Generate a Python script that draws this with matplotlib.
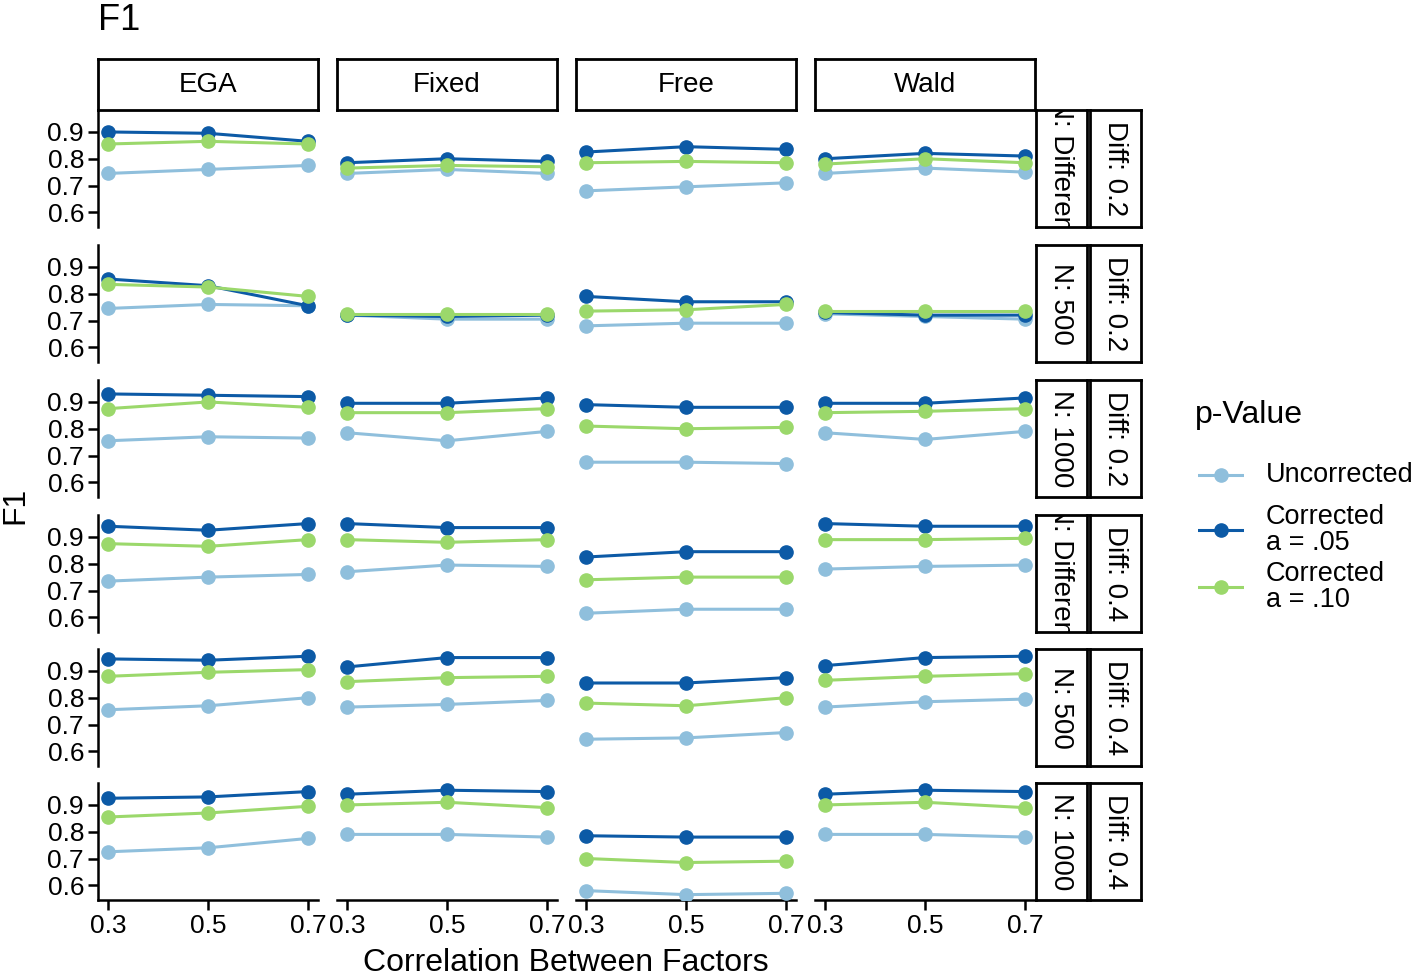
import matplotlib
matplotlib.use("Agg")
import matplotlib.pyplot as plt

corr = [0.3, 0.5, 0.7]
methods = ["EGA", "Fixed", "Free", "Wald"]
row_n = ["N: Different", "N: 500", "N: 1000", "N: Different", "N: 500", "N: 1000"]
row_diff = ["Diff: 0.2"] * 3 + ["Diff: 0.4"] * 3
series_names = ["Uncorrected", "Corrected\na = .05", "Corrected\na = .10"]
colors = ["#8fbfdc", "#0c5aa6", "#9bd86b"]

# values[row][method] = (uncorrected, corr .05, corr .10)
uncorrected = [
    [[.745, .76, .775], [.745, .76, .745], [.68, .695, .71], [.745, .765, .75]],
    [[.745, .76, .755], [.72, .705, .705], [.68, .69, .69], [.725, .715, .705]],
    [[.755, .77, .765], [.785, .755, .79], [.675, .675, .67], [.785, .76, .79]],
    [[.735, .75, .76], [.77, .795, .79], [.615, .63, .63], [.78, .79, .795]],
    [[.755, .77, .80], [.765, .775, .79], [.645, .65, .67], [.765, .785, .795]],
    [[.725, .74, .775], [.79, .79, .78], [.58, .565, .57], [.79, .79, .78]],
]
corrected05 = [
    [[.90, .895, .865], [.785, .80, .79], [.825, .845, .835], [.80, .82, .81]],
    [[.855, .83, .755], [.72, .715, .72], [.79, .77, .77], [.73, .72, .72]],
    [[.93, .925, .92], [.895, .895, .915], [.89, .88, .88], [.895, .895, .915]],
    [[.94, .925, .95], [.95, .935, .935], [.825, .845, .845], [.95, .94, .94]],
    [[.945, .94, .955], [.915, .95, .95], [.855, .855, .875], [.92, .95, .955]],
    [[.925, .93, .95], [.94, .955, .95], [.785, .78, .78], [.94, .955, .95]],
]
corrected10 = [
    [[.855, .865, .855], [.765, .775, .77], [.785, .79, .785], [.78, .80, .785]],
    [[.835, .825, .79], [.725, .725, .725], [.735, .74, .76], [.735, .735, .735]],
    [[.875, .90, .88], [.86, .86, .875], [.81, .80, .805], [.86, .865, .875]],
    [[.875, .865, .89], [.89, .88, .89], [.74, .75, .75], [.89, .89, .895]],
    [[.88, .895, .905], [.86, .875, .88], [.78, .77, .80], [.865, .88, .89]],
    [[.855, .87, .895], [.90, .91, .89], [.70, .685, .69], [.90, .91, .89]],
]
series = [uncorrected, corrected05, corrected10]

W, H = 1417, 980
plt.rcParams["font.family"] = ["Liberation Sans", "DejaVu Sans"]
fig = plt.figure(figsize=(W / 100, H / 100), dpi=100)

col_x = [98, 337, 576, 815]
pw = 220
row_top = [110, 245, 380, 515, 649, 783]
ph = 117

def fx(px): return px / W
def fy(py): return 1 - py / H

for r in range(6):
    for c in range(4):
        ax = fig.add_axes([fx(col_x[c]), fy(row_top[r] + ph), fx(pw), ph / H])
        for s in range(3):
            ax.plot(corr, series[s][r][c], color=colors[s], lw=2.2, marker="o",
                    ms=9.5, zorder=3)
        ax.set_xlim(0.28, 0.72)
        ax.set_ylim(0.545, 0.982)
        ax.set_yticks([0.6, 0.7, 0.8, 0.9])
        ax.set_xticks(corr)
        for sp in ["top", "right"]:
            ax.spines[sp].set_visible(False)
        ax.spines["left"].set_visible(c == 0)
        ax.spines["bottom"].set_visible(r == 5)
        ax.spines["left"].set_linewidth(1.8)
        ax.spines["bottom"].set_linewidth(1.8)
        ax.tick_params(axis="both", width=1.8, length=7, labelsize=19, colors="black", pad=3)
        if c == 0:
            ax.set_yticklabels(["0.6", "0.7", "0.8", "0.9"])
        else:
            ax.tick_params(axis="y", left=False, labelleft=False)
        if r == 5:
            ax.set_xticklabels(["0.3", "0.5", "0.7"])
        else:
            ax.tick_params(axis="x", bottom=False, labelbottom=False)
        ax.patch.set_alpha(0)
        if r == 0:
            sax = fig.add_axes([fx(col_x[c]), fy(110), fx(pw), 51 / H])
            sax.set_xticks([]); sax.set_yticks([])
            for sp in sax.spines.values():
                sp.set_linewidth(2)
            sax.text(0.5, 0.5, methods[c], ha="center", va="center", fontsize=20)
        if c == 3:
            for k, (x0, lab) in enumerate([(1036, row_n[r]), (1090, row_diff[r])]):
                sax = fig.add_axes([fx(x0), fy(row_top[r] + ph), fx(51), ph / H])
                sax.set_xticks([]); sax.set_yticks([])
                for sp in sax.spines.values():
                    sp.set_linewidth(2)
                t = sax.text(0.5, 0.5, lab, ha="center", va="center", fontsize=20,
                             rotation=-90)
                t.set_clip_on(True)

fig.text(fx(98), fy(20), "F1", fontsize=26, ha="left", va="center")
fig.text(fx(15), fy(505), "F1", fontsize=23, rotation=90, ha="center", va="center")
fig.text(fx(566), fy(963), "Correlation Between Factors", fontsize=23, ha="center", va="center")

fig.text(fx(1195), fy(415), "p-Value", fontsize=23, ha="left", va="center")
leg_y = [475, 530, 587]
for s in range(3):
    lax = fig.add_axes([fx(1198), fy(leg_y[s] + 15), fx(46), 30 / H])
    lax.plot([0, 1], [0.5, 0.5], color=colors[s], lw=2.2)
    lax.plot([0.5], [0.5], "o", color=colors[s], ms=9.5)
    lax.set_xlim(0, 1); lax.set_ylim(0, 1); lax.axis("off")
    fig.text(fx(1266), fy(leg_y[s]), series_names[s], fontsize=19.5, ha="left",
             va="center", linespacing=1.0)

fig.savefig("out.png", dpi=100)
